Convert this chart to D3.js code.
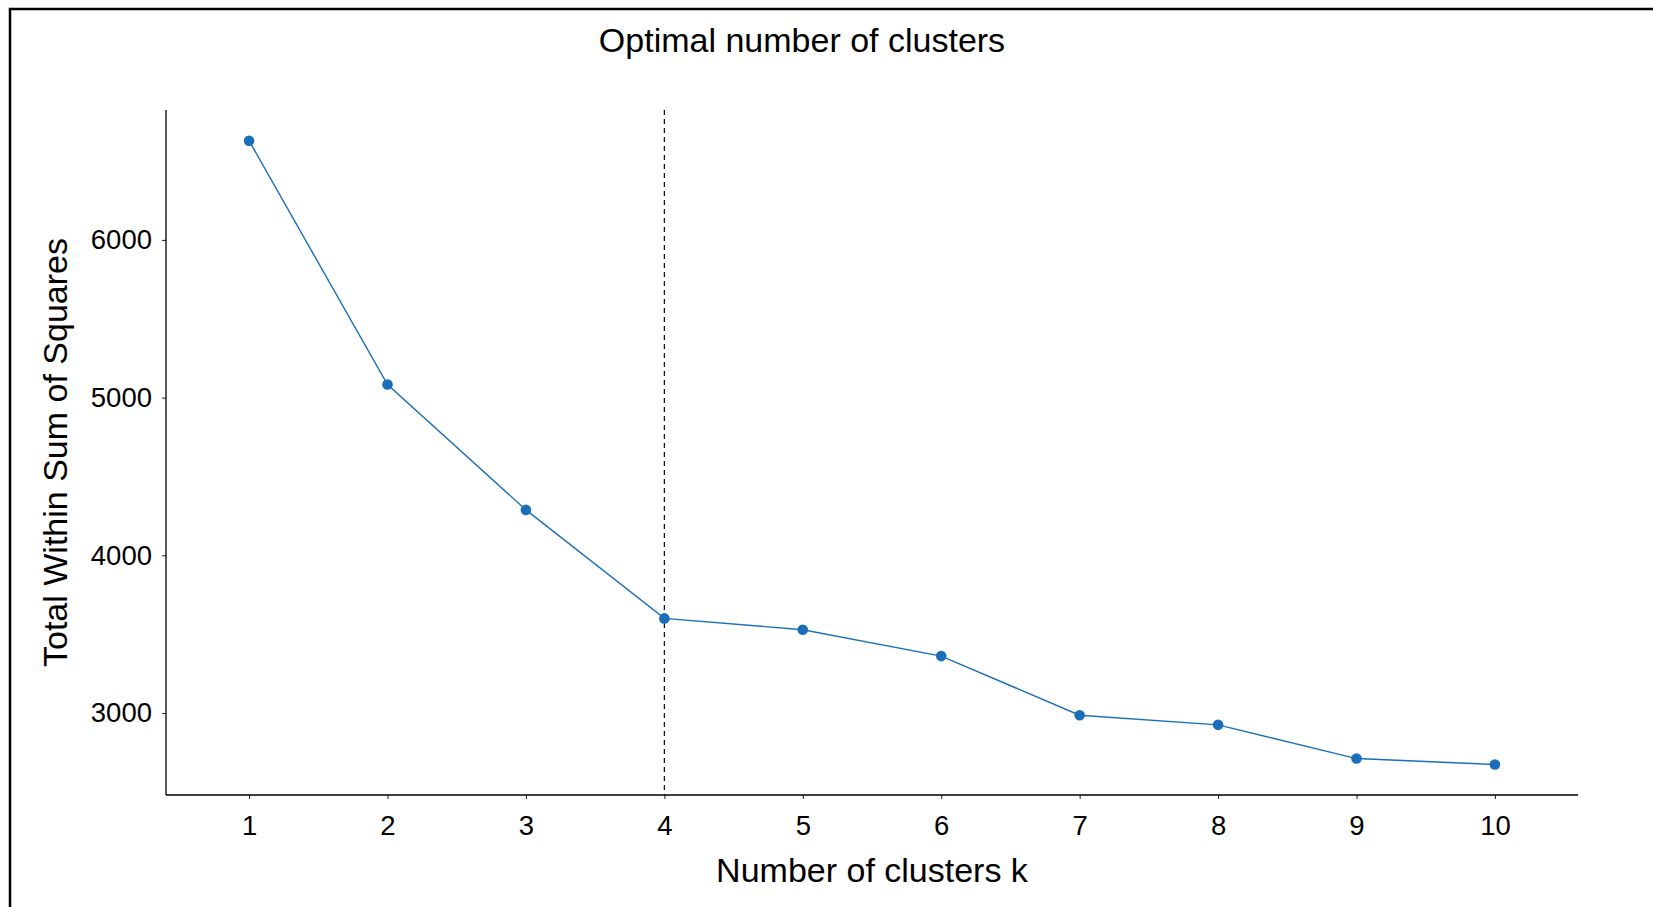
<!DOCTYPE html>
<html>
<head>
<meta charset="utf-8">
<script src="https://cdn.jsdelivr.net/npm/d3@7"></script>
<style>
  body { margin: 0; background: white; }
  text { font-family: "Liberation Sans", Arial, Helvetica, sans-serif; fill: black; }
</style>
</head>
<body>
<div id="container"></div>
<script>
// Elbow plot: total within sum of squares vs number of clusters

const width = 1653;
const height = 907;

const clusters = [1, 2, 3, 4, 5, 6, 7, 8, 9, 10];
const wss = [6629, 5083, 4288, 3600, 3528, 3361, 2986, 2925, 2711, 2673];
const yTicks = [3000, 4000, 5000, 6000];
const optimalK = 4;

const margin = { top: 110, right: 75, bottom: 112, left: 166 };

const svg = d3.select("#container")
    .append("svg")
    .attr("width", width)
    .attr("height", height)
    .style("background-color", "white");

// outer frame (only top and left edges fall inside the picture)
svg.append("rect")
    .attr("x", 10)
    .attr("y", 9)
    .attr("width", 2000)
    .attr("height", 2000)
    .attr("fill", "none")
    .attr("stroke", "black")
    .attr("stroke-width", 2.5);

const x = d3.scaleLinear()
    .domain([0.4, 10.6])
    .range([margin.left, width - margin.right]);

const y = d3.scaleLinear()
    .domain([2480, 6824])
    .range([height - margin.bottom, margin.top]);

const lineColor = "#1b6fba";

// x axis
const xAxis = svg.append("g")
    .attr("transform", `translate(0, ${height - margin.bottom})`)
    .call(d3.axisBottom(x).tickValues(clusters).tickFormat(d3.format("d")).tickSizeOuter(0).tickSize(4).tickPadding(16));
xAxis.select(".domain").remove();
xAxis.selectAll(".tick line").attr("stroke", "#333").attr("stroke-width", 1.1);
xAxis.selectAll(".tick text").style("font-size", "27.5px").attr("fill", "black");

// y axis
const yAxis = svg.append("g")
    .attr("transform", `translate(${margin.left}, 0)`)
    .call(d3.axisLeft(y).tickValues(yTicks).tickSizeOuter(0).tickSize(4).tickPadding(10).tickFormat(d3.format("d")));
yAxis.select(".domain").remove();
yAxis.selectAll(".tick line").attr("stroke", "#333").attr("stroke-width", 1.1);
yAxis.selectAll(".tick text").style("font-size", "27.5px").attr("fill", "black");

// axis lines
svg.append("line")
    .attr("x1", x.range()[0]).attr("x2", x.range()[1])
    .attr("y1", y.range()[0]).attr("y2", y.range()[0])
    .attr("stroke", "black").attr("stroke-width", 1.3);
svg.append("line")
    .attr("x1", x.range()[0]).attr("x2", x.range()[0])
    .attr("y1", y.range()[0]).attr("y2", y.range()[1])
    .attr("stroke", "black").attr("stroke-width", 1.3);

// optimal k marker
svg.append("line")
    .attr("x1", x(optimalK))
    .attr("x2", x(optimalK))
    .attr("y1", margin.top)
    .attr("y2", height - margin.bottom)
    .attr("stroke", "black")
    .attr("stroke-width", 1.2)
    .attr("stroke-dasharray", "5,4");

const data = clusters.map((k, i) => ({ k: k, v: wss[i] }));

svg.append("path")
    .datum(data)
    .attr("fill", "none")
    .attr("stroke", lineColor)
    .attr("stroke-width", 1.4)
    .attr("d", d3.line().x(d => x(d.k)).y(d => y(d.v)));

svg.selectAll("circle.pt")
    .data(data)
    .join("circle")
    .attr("class", "pt")
    .attr("cx", d => x(d.k))
    .attr("cy", d => y(d.v))
    .attr("r", 5.3)
    .attr("fill", lineColor);

// titles
svg.append("text")
    .attr("x", 802)
    .attr("y", 52)
    .attr("text-anchor", "middle")
    .style("font-size", "34px")
    .text("Optimal number of clusters");

svg.append("text")
    .attr("x", (margin.left + width - margin.right) / 2)
    .attr("y", 882)
    .attr("text-anchor", "middle")
    .style("font-size", "34px")
    .text("Number of clusters k");

svg.append("text")
    .attr("transform", `translate(67, ${(margin.top + height - margin.bottom) / 2}) rotate(-90)`)
    .attr("text-anchor", "middle")
    .style("font-size", "34px")
    .text("Total Within Sum of Squares");
</script>
</body>
</html>
